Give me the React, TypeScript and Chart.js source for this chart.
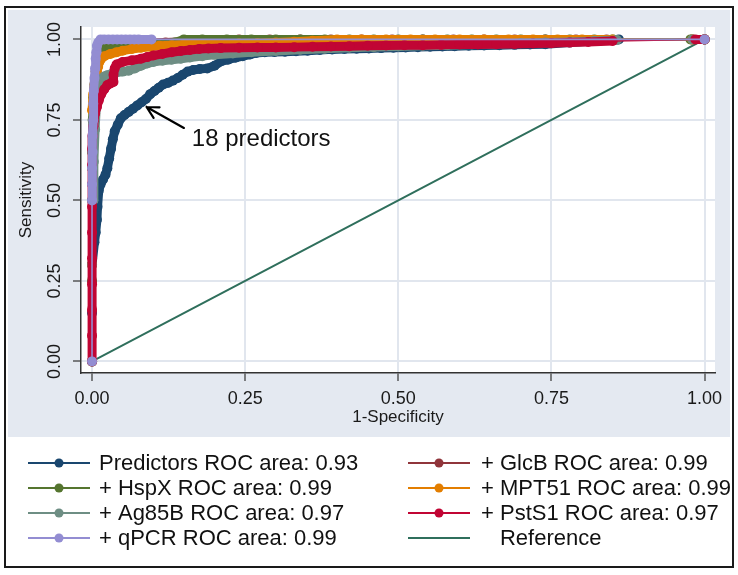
import React, { useEffect, useRef } from "react";
import { Chart, registerables } from "chart.js";

Chart.register(...registerables);

// ---------- data ----------
const tickValues = [0, 0.25, 0.5, 0.75, 1];

const predictorsX = [0, 0, 0, 0.004, 0.006, 0.008, 0.009, 0.011, 0.014, 0.018, 0.022, 0.025, 0.028, 0.031, 0.034, 0.037, 0.042, 0.047, 0.053, 0.060, 0.067, 0.074, 0.081, 0.088, 0.095, 0.102, 0.109, 0.116, 0.124, 0.132, 0.140, 0.148, 0.156, 0.165, 0.176, 0.188, 0.200, 0.211, 0.222, 0.234, 0.246, 0.258, 0.268, 0.282, 0.298, 0.315, 0.333, 0.352, 0.372, 0.392, 0.412, 0.432, 0.452, 0.472, 0.492, 0.512, 0.532, 0.552, 0.572, 0.592, 0.615, 0.64, 0.665, 0.69, 0.715, 0.74, 0.78, 0.82, 0.86, 1];
const predictorsY = [0, 0.15, 0.3, 0.37, 0.40, 0.44, 0.48, 0.53, 0.55, 0.565, 0.58, 0.60, 0.63, 0.66, 0.69, 0.715, 0.735, 0.755, 0.765, 0.775, 0.785, 0.795, 0.805, 0.815, 0.83, 0.84, 0.85, 0.86, 0.865, 0.872, 0.88, 0.89, 0.9, 0.905, 0.908, 0.91, 0.918, 0.932, 0.937, 0.943, 0.948, 0.953, 0.958, 0.96, 0.961, 0.962, 0.963, 0.965, 0.967, 0.969, 0.97, 0.971, 0.972, 0.973, 0.974, 0.975, 0.976, 0.977, 0.978, 0.979, 0.98, 0.981, 0.982, 0.983, 0.984, 0.985, 0.99, 0.995, 1, 1];

const glcbX = [0, 0, 0, 0.002, 0.004, 0.006, 0.009, 0.013, 0.018, 0.025, 0.035, 0.05, 0.07, 0.09, 0.12, 0.15, 0.19, 0.24, 0.29, 0.34, 0.39, 0.44, 0.49, 0.54, 0.59, 0.64, 0.69, 0.74, 0.79, 0.84, 0.98, 1];
const glcbY = [0, 0.3, 0.6, 0.75, 0.85, 0.9, 0.94, 0.955, 0.965, 0.97, 0.975, 0.98, 0.985, 0.988, 0.99, 0.993, 0.996, 1, 1, 1, 1, 1, 1, 1, 1, 1, 1, 1, 1, 1, 1, 1];

const hspxX = [0, 0, 0, 0, 0.001, 0.002, 0.004, 0.006, 0.008, 0.010, 0.012, 0.02, 0.03, 0.045, 0.06, 0.075, 0.09, 0.105, 0.12, 0.135, 0.15, 0.18, 0.22, 0.26, 0.30, 0.34, 0.38, 0.42, 0.46, 0.50, 0.54, 0.58, 0.62, 0.66, 0.70, 0.74, 0.78, 0.82, 0.85, 0.977, 1];
const hspxY = [0, 0.25, 0.5, 0.65, 0.75, 0.82, 0.86, 0.9, 0.93, 0.95, 0.965, 0.972, 0.975, 0.977, 0.978, 0.98, 0.982, 0.984, 0.986, 0.99, 1, 1, 1, 1, 1, 1, 1, 1, 1, 1, 1, 1, 1, 1, 1, 1, 1, 1, 1, 1, 1];

const mpt51X = [0, 0, 0, 0, 0.002, 0.004, 0.006, 0.008, 0.010, 0.012, 0.015, 0.02, 0.03, 0.04, 0.05, 0.065, 0.08, 0.095, 0.11, 0.13, 0.15, 0.18, 0.21, 0.24, 0.27, 0.30, 0.33, 0.36, 0.40, 0.44, 0.48, 0.52, 0.56, 0.60, 0.64, 0.68, 0.72, 0.76, 0.80, 0.85, 0.98, 1];
const mpt51Y = [0, 0.3, 0.6, 0.78, 0.83, 0.86, 0.88, 0.9, 0.915, 0.93, 0.94, 0.948, 0.955, 0.96, 0.965, 0.97, 0.974, 0.977, 0.98, 0.982, 0.984, 0.985, 0.986, 0.987, 0.988, 0.99, 0.993, 0.996, 1, 1, 1, 1, 1, 1, 1, 1, 1, 1, 1, 1, 1, 1];

const ag85bX = [0, 0, 0.002, 0.003, 0.005, 0.007, 0.009, 0.011, 0.013, 0.016, 0.02, 0.025, 0.032, 0.04, 0.05, 0.06, 0.07, 0.08, 0.09, 0.1, 0.115, 0.13, 0.145, 0.16, 0.18, 0.2, 0.23, 0.26, 0.3, 0.34, 0.38, 0.42, 0.46, 0.5, 0.54, 0.58, 0.62, 0.66, 0.7, 0.74, 0.78, 0.82, 0.857, 0.98, 1];
const ag85bY = [0, 0.3, 0.5, 0.62, 0.72, 0.79, 0.83, 0.855, 0.868, 0.878, 0.885, 0.889, 0.893, 0.897, 0.9, 0.903, 0.91, 0.918, 0.925, 0.93, 0.934, 0.937, 0.94, 0.944, 0.948, 0.952, 0.956, 0.96, 0.964, 0.968, 0.971, 0.974, 0.976, 0.978, 0.98, 0.982, 0.984, 0.986, 0.988, 0.99, 0.992, 0.995, 0.998, 1, 1];

const psts1X = [0, 0, 0, 0, 0, 0, 0, 0, 0, 0, 0.001, 0.002, 0.003, 0.005, 0.008, 0.011, 0.015, 0.02, 0.025, 0.03, 0.035, 0.035, 0.037, 0.04, 0.05, 0.065, 0.08, 0.09, 0.1, 0.115, 0.13, 0.145, 0.16, 0.175, 0.19, 0.21, 0.24, 0.27, 0.3, 0.33, 0.36, 0.39, 0.42, 0.45, 0.48, 0.51, 0.54, 0.57, 0.6, 0.63, 0.66, 0.69, 0.72, 0.75, 0.78, 0.81, 0.85, 0.985, 1];
const psts1Y = [0, 0.08, 0.16, 0.24, 0.32, 0.4, 0.48, 0.55, 0.61, 0.66, 0.7, 0.73, 0.75, 0.77, 0.79, 0.81, 0.83, 0.845, 0.858, 0.863, 0.868, 0.89, 0.91, 0.922, 0.93, 0.935, 0.94, 0.945, 0.95, 0.955, 0.96, 0.964, 0.967, 0.97, 0.972, 0.973, 0.974, 0.975, 0.975, 0.976, 0.977, 0.978, 0.979, 0.98, 0.981, 0.982, 0.982, 0.983, 0.984, 0.984, 0.985, 0.986, 0.987, 0.988, 0.99, 0.992, 0.995, 1, 1];

const qpcrX = [0, 0, 0, 0, 0.001, 0.001, 0.002, 0.002, 0.003, 0.004, 0.005, 0.006, 0.007, 0.008, 0.01, 0.014, 0.02, 0.027, 0.034, 0.041, 0.048, 0.055, 0.062, 0.069, 0.076, 0.097, 1];
const qpcrY = [0, 0.5, 0.55, 0.6, 0.65, 0.7, 0.75, 0.8, 0.84, 0.88, 0.91, 0.94, 0.96, 0.98, 0.99, 1, 1, 1, 1, 1, 1, 1, 1, 1, 1, 1, 1];

const referenceX = [0, 1];
const referenceY = [0, 1];

const seriesLabels = [
  "Predictors ROC area: 0.93",
  "+ GlcB ROC area: 0.99",
  "+ HspX ROC area: 0.99",
  "+ MPT51 ROC area: 0.99",
  "+ Ag85B ROC area: 0.97",
  "+ PstS1 ROC area: 0.97",
  "+ qPCR ROC area: 0.99",
  "Reference",
];

const annotationText = "18 predictors";
const arrowHead = [0.089, 0.79];
const arrowTail = [0.15, 0.725];
const annotationAt = [0.163, 0.688];

// ---------- styles ----------
const FONT = "'Liberation Sans', Arial, Helvetica, sans-serif";
const seriesColors = ["#1a476f", "#90353b", "#55752f", "#e37e00", "#6e8e84", "#c10534", "#938dd2", "#2f6f5c"];
const drawOrder = [6, 5, 4, 3, 2, 1, 0, 7];

const segWidth = (ctx: any) => {
  const d = Math.hypot(ctx.p1.x - ctx.p0.x, ctx.p1.y - ctx.p0.y);
  return d > 40 ? 1.6 : 9;
};

const pageBgPlugin = {
  id: "pageBg",
  beforeDraw(chart: any) {
    const { ctx, chartArea } = chart;
    ctx.save();
    ctx.fillStyle = "#ffffff";
    ctx.fillRect(0, 0, chart.width, chart.height);
    ctx.fillStyle = "#E4E9F1";
    ctx.fillRect(8, 10, 722, 427);
    ctx.fillStyle = "#ffffff";
    ctx.fillRect(chartArea.left, chartArea.top, chartArea.right - chartArea.left, chartArea.bottom - chartArea.top);
    ctx.restore();
  },
  afterDraw(chart: any) {
    const { ctx } = chart;
    ctx.save();
    ctx.strokeStyle = "#1a1a1a";
    ctx.lineWidth = 2;
    ctx.strokeRect(5, 7, 728, 560);
    const cols = [
      { x0: 28, x1: 90, tx: 99 },
      { x0: 408, x1: 470, tx: 481 },
    ];
    const rowY0 = 463;
    const rowDy = 25;
    ctx.font = `22px ${FONT}`;
    ctx.textBaseline = "middle";
    ctx.textAlign = "left";
    const plusW = ctx.measureText("+ ").width;
    chart.data.datasets.forEach((ds: any, i: number) => {
      const col = cols[i % 2];
      const y = rowY0 + Math.floor(i / 2) * rowDy;
      ctx.strokeStyle = ds.borderColor;
      ctx.lineWidth = 2;
      ctx.beginPath();
      ctx.moveTo(col.x0, y);
      ctx.lineTo(col.x1, y);
      ctx.stroke();
      const hasMarker = ds.pointRadius > 0;
      if (hasMarker) {
        ctx.fillStyle = ds.borderColor;
        ctx.beginPath();
        ctx.arc((col.x0 + col.x1) / 2, y, 4.5, 0, Math.PI * 2);
        ctx.fill();
      }
      ctx.fillStyle = "#111111";
      ctx.fillText(ds.label, col.tx + (hasMarker ? 0 : plusW), y + 1);
    });
    ctx.restore();
  },
};

const annotationPlugin = {
  id: "arrowNote",
  afterDatasetsDraw(chart: any) {
    const { ctx, scales } = chart;
    const hx = scales.x.getPixelForValue(arrowHead[0]);
    const hy = scales.y.getPixelForValue(arrowHead[1]);
    const tx = scales.x.getPixelForValue(arrowTail[0]);
    const ty = scales.y.getPixelForValue(arrowTail[1]);
    ctx.save();
    ctx.strokeStyle = "#000000";
    ctx.lineWidth = 2.2;
    ctx.lineCap = "round";
    ctx.beginPath();
    ctx.moveTo(tx, ty);
    ctx.lineTo(hx, hy);
    const ang = Math.atan2(hy - ty, hx - tx);
    const L = 13;
    const a = (28 * Math.PI) / 180;
    ctx.moveTo(hx, hy);
    ctx.lineTo(hx - L * Math.cos(ang - a), hy - L * Math.sin(ang - a));
    ctx.moveTo(hx, hy);
    ctx.lineTo(hx - L * Math.cos(ang + a), hy - L * Math.sin(ang + a));
    ctx.stroke();
    ctx.fillStyle = "#111111";
    ctx.font = `24px ${FONT}`;
    ctx.textBaseline = "middle";
    ctx.textAlign = "left";
    ctx.fillText(
      annotationText,
      scales.x.getPixelForValue(annotationAt[0]),
      scales.y.getPixelForValue(annotationAt[1])
    );
    ctx.restore();
  },
};

function makeSeries(xs: number[], ys: number[]) {
  return xs.map((x, i) => ({ x, y: ys[i] }));
}

export default function App() {
  const canvasRef = useRef<HTMLCanvasElement | null>(null);

  useEffect(() => {
    document.body.style.margin = "0";
    const canvas = canvasRef.current;
    if (!canvas) return;
    const allX = [predictorsX, glcbX, hspxX, mpt51X, ag85bX, psts1X, qpcrX, referenceX];
    const allY = [predictorsY, glcbY, hspxY, mpt51Y, ag85bY, psts1Y, qpcrY, referenceY];
    const datasets = allX.map((xs, i) => {
      const isRef = i === 7;
      return {
        label: seriesLabels[i],
        data: makeSeries(xs, allY[i]),
        showLine: true,
        borderColor: seriesColors[i],
        backgroundColor: seriesColors[i],
        pointBackgroundColor: seriesColors[i],
        pointBorderWidth: 0,
        pointRadius: isRef ? 0 : 5,
        pointHoverRadius: isRef ? 0 : 5,
        borderWidth: isRef ? 2 : 1.6,
        borderJoinStyle: "round",
        borderCapStyle: "round",
        segment: isRef ? undefined : { borderWidth: segWidth },
        order: drawOrder[i],
      };
    });

    const tickCb = (v: any) => Number(v).toFixed(2);
    const setTicks = (s: any) => {
      s.ticks = tickValues.map((v) => ({ value: v }));
    };

    const chart = new Chart(canvas, {
      type: "scatter",
      data: { datasets } as any,
      options: {
        responsive: false,
        animation: false,
        devicePixelRatio: 1,
        layout: { padding: { left: 10, top: 27, right: 23, bottom: 138 } },
        plugins: { legend: { display: false }, tooltip: { enabled: false } },
        elements: { line: { tension: 0 } },
        scales: {
          x: {
            type: "linear",
            min: -0.018,
            max: 1.017,
            afterBuildTicks: setTicks,
            afterFit: (s: any) => {
              s.height = 64;
            },
            ticks: {
              callback: tickCb,
              font: { family: FONT, size: 18 },
              color: "#1a1a1a",
              padding: 7,
              maxRotation: 0,
              autoSkip: false,
            },
            grid: {
              color: "#E1E6EE",
              lineWidth: 2,
              tickColor: "#333333",
              tickLength: 8,
              tickWidth: 1.2,
            },
            border: { display: true, color: "#333333", width: 1.5 },
            title: {
              display: true,
              text: "1-Specificity",
              font: { family: FONT, size: 17 },
              color: "#1a1a1a",
              padding: { top: 0, bottom: 9 },
            },
          },
          y: {
            type: "linear",
            min: -0.036,
            max: 1.0385,
            afterBuildTicks: setTicks,
            afterFit: (s: any) => {
              s.width = 71;
            },
            ticks: {
              callback: tickCb,
              font: { family: FONT, size: 18 },
              color: "#1a1a1a",
              padding: 0,
              minRotation: 90,
              maxRotation: 90,
              crossAlign: "center",
              autoSkip: false,
            },
            grid: {
              color: "#E1E6EE",
              lineWidth: 2,
              tickColor: "#333333",
              tickLength: 8,
              tickWidth: 1.2,
            },
            border: { display: true, color: "#333333", width: 1.5 },
            title: {
              display: true,
              text: "Sensitivity",
              font: { family: FONT, size: 17 },
              color: "#1a1a1a",
              padding: { top: 6, bottom: 0 },
            },
          },
        },
      } as any,
      plugins: [pageBgPlugin, annotationPlugin],
    });
    return () => chart.destroy();
  }, []);

  return <canvas ref={canvasRef} width={738} height={575} style={{ display: "block" }} />;
}
